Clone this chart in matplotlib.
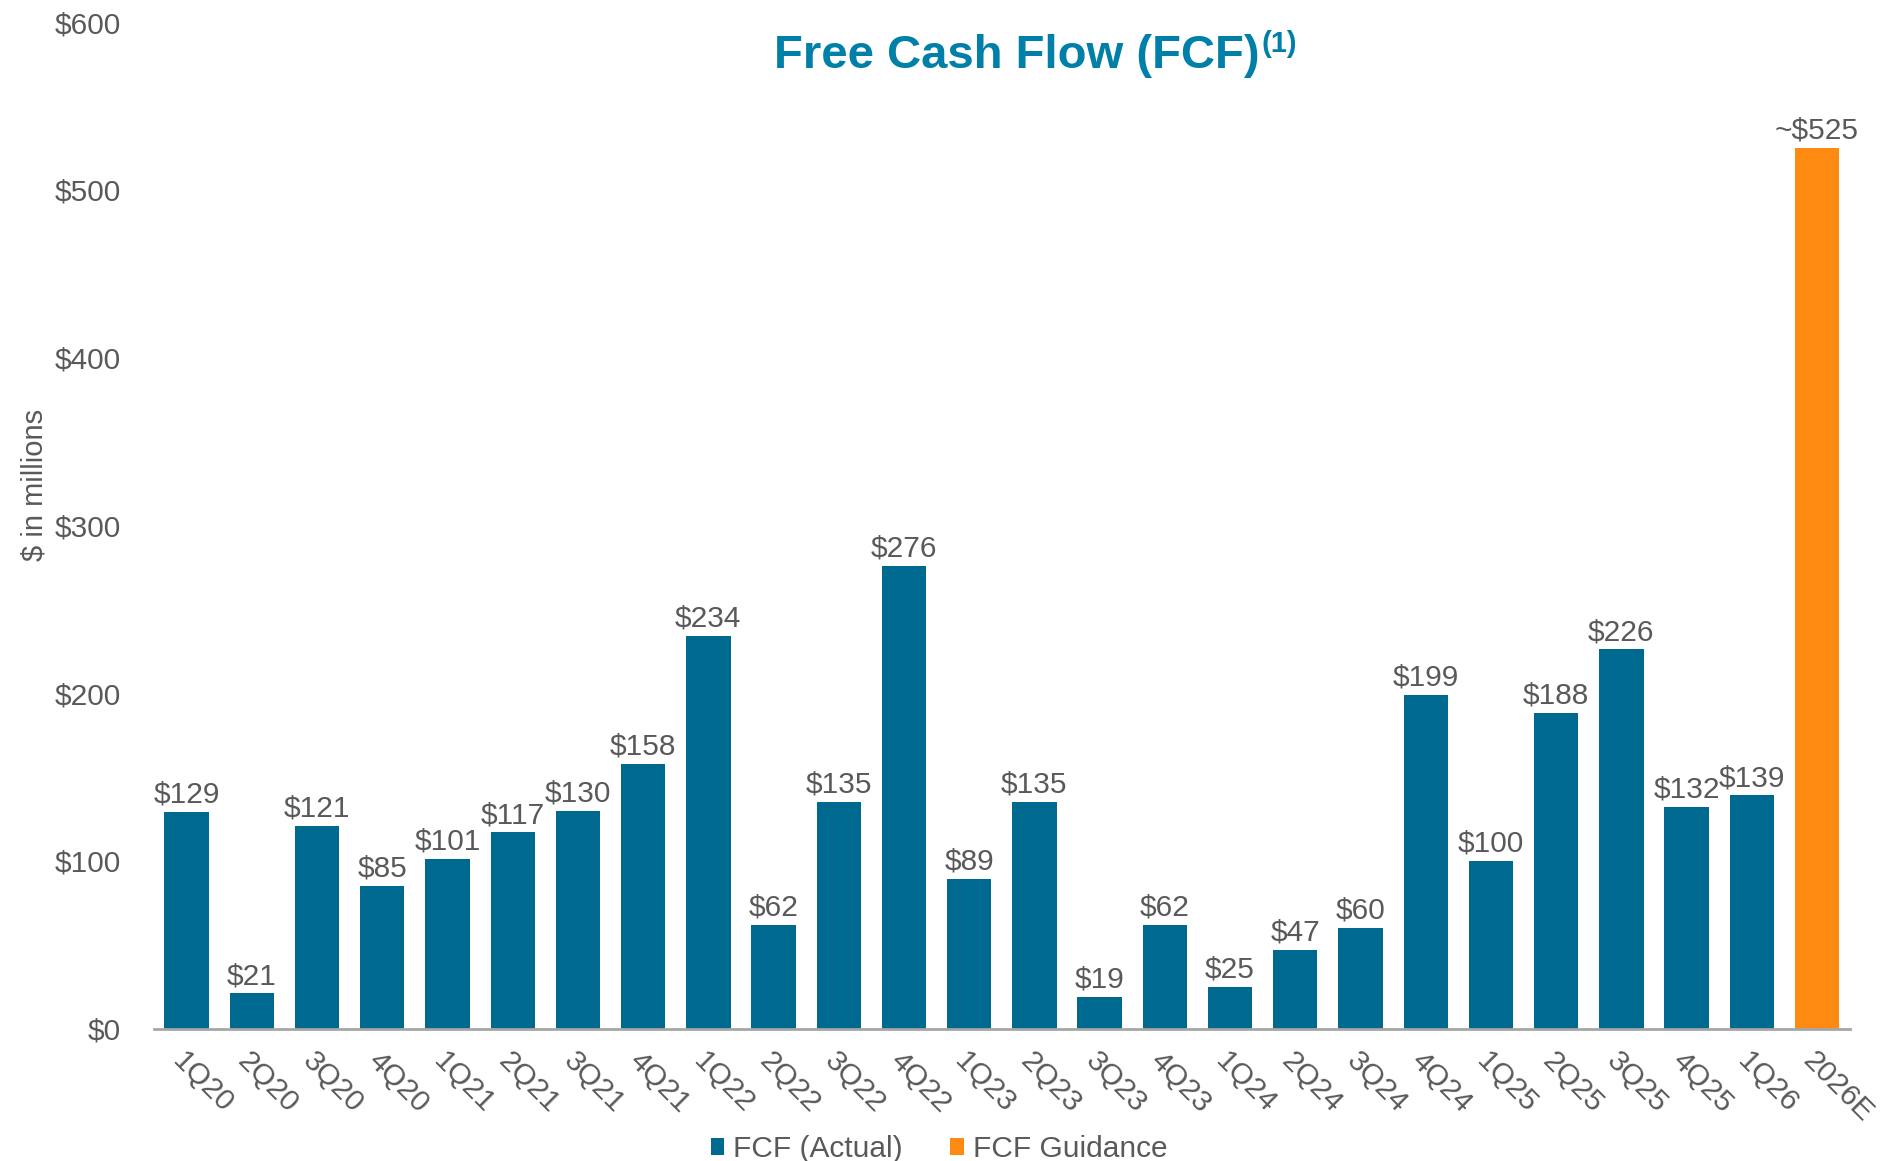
import matplotlib.pyplot as plt

plt.rcParams["font.family"] = ["Liberation Sans", "DejaVu Sans"]

quarters = ["1Q20", "2Q20", "3Q20", "4Q20", "1Q21", "2Q21", "3Q21", "4Q21",
            "1Q22", "2Q22", "3Q22", "4Q22", "1Q23", "2Q23", "3Q23", "4Q23",
            "1Q24", "2Q24", "3Q24", "4Q24", "1Q25", "2Q25", "3Q25", "4Q25",
            "1Q26"]
fcf_actual = [129, 21, 121, 85, 101, 117, 130, 158, 234, 62, 135, 276, 89,
              135, 19, 62, 25, 47, 60, 199, 100, 188, 226, 132, 139]
guidance_label = "2026E"
fcf_guidance = 525

BLUE = "#006990"
ORANGE = "#FF8A12"
GRAY = "#595959"
TITLE_BLUE = "#0080A8"
FS = 21.5

fig = plt.figure(figsize=(19.01, 11.61), dpi=100)
ax = fig.add_axes([0.081, 0.114, 0.892, 0.867])

x = list(range(len(quarters)))
width = 0.68

bars = ax.bar(x, fcf_actual, width, color=BLUE, label="FCF (Actual)")
gx = len(quarters)
gbar = ax.bar([gx], [fcf_guidance], width, color=ORANGE, label="FCF Guidance")

for bar, val in zip(bars, fcf_actual):
    ax.text(bar.get_x() + bar.get_width() / 2, val + 2, f"${val}",
            ha="center", va="bottom", fontsize=FS, color=GRAY)
ax.text(gx, fcf_guidance + 2, f"~${fcf_guidance}", ha="center", va="bottom",
        fontsize=FS, color=GRAY)

ax.set_xlim(-0.5, gx + 0.5)
ax.set_ylim(0, 600)
ax.set_yticks(range(0, 601, 100))
ax.set_yticklabels([f"${v}" for v in range(0, 601, 100)], fontsize=FS, color=GRAY)

ax.set_xticks(x + [gx])
ax.set_xticklabels(quarters + [guidance_label], rotation=-45, ha="left",
                   va="top", rotation_mode="anchor", fontsize=FS, color=GRAY)
ax.tick_params(axis="both", length=0)
ax.tick_params(axis="x", pad=13)
ax.tick_params(axis="y", pad=24)

for side in ["top", "right", "left"]:
    ax.spines[side].set_visible(False)
ax.spines["bottom"].set_color("#A6A6A6")
ax.spines["bottom"].set_linewidth(2)

ax.set_ylabel("$ in millions", fontsize=21, color=GRAY)
ax.yaxis.set_label_coords(-0.062, 0.54)

title = fig.text(0.535, 0.952, "Free Cash Flow (FCF)", ha="center",
                 va="center", fontsize=34, fontweight="bold", color=TITLE_BLUE)
fig.canvas.draw()
ax.annotate("(1)", xy=(1, 1), xycoords=title, xytext=(1, 3),
            textcoords="offset points", ha="left", va="top", fontsize=21,
            fontweight="bold", color=TITLE_BLUE, annotation_clip=False)

leg = fig.legend(handles=[bars, gbar], labels=["FCF (Actual)", "FCF Guidance"],
                 loc="lower center", bbox_to_anchor=(0.494, -0.025), ncol=2,
                 frameon=False, fontsize=FS, handlelength=0.45, handleheight=0.45,
                 handletextpad=0.3, columnspacing=1.6)
for t in leg.get_texts():
    t.set_color(GRAY)

fig.savefig("out.png", dpi=100)
